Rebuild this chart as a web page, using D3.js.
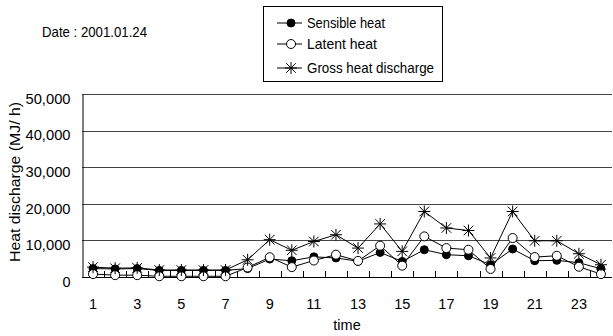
<!DOCTYPE html>
<html>
<head>
<meta charset="utf-8">
<script src="https://cdn.jsdelivr.net/npm/d3@7"></script>
<style>
  html, body { margin: 0; padding: 0; background: #fff; }
  svg { display: block; font-family: "Liberation Sans", Arial, sans-serif; }
</style>
</head>
<body>
<svg id="chart" width="613" height="336"></svg>
<script>
const hours = d3.range(1, 25);
const sensible = [2300, 2200, 2300, 1800, 1800, 1800, 1800, 2300, 4900, 4450, 5500, 5200, 4300, 6700, 4250, 7450, 6100, 5800, 3350, 7650, 4450, 4550, 3900, 2250];
const latent   = [ 800,  500,  500,  200,  200,  200,  200, 2600, 5400, 2700, 4500, 6100, 4400, 8550, 3100, 11100, 7900, 7450, 2200, 10650, 5450, 5800, 2800,  800];
const gross    = [2700, 2400, 2500, 1900, 1900, 1900, 1900, 4700, 10200, 7300, 9700, 11550, 7900, 14500, 7000, 17900, 13400, 12700, 5200, 17900, 9900, 9900, 6350, 3350];
const yTicks = [0, 10000, 20000, 30000, 40000, 50000];
const xTickLabels = [1, 3, 5, 7, 9, 11, 13, 15, 17, 19, 21, 23];
const seriesNames = ["Sensible heat", "Latent heat", "Gross heat discharge"];
const dateText = "Date :  2001.01.24";

const svg = d3.select("#chart");
const L = 82, R = 612, T = 94, B = 277;
const FS = 14.5;

const x = d3.scaleBand().domain(hours).range([L, R]);
const y = d3.scaleLinear().domain([0, 50000]).range([B, T]);
const cx = h => x(h) + x.bandwidth() / 2;

// gridlines
svg.append("g").selectAll("line").data(yTicks.slice(1)).join("line")
  .attr("x1", L).attr("x2", R)
  .attr("y1", d => Math.round(y(d)) + 0.5).attr("y2", d => Math.round(y(d)) + 0.5)
  .attr("stroke", "#444").attr("stroke-width", 1);

// y axis
const yAxis = svg.append("g").attr("transform", `translate(${L + 0.5},0)`)
  .call(d3.axisLeft(y).tickValues(yTicks).tickFormat(d3.format(",")).tickSize(0).tickPadding(12));
yAxis.select(".domain").attr("stroke", "#000");
yAxis.selectAll("text").attr("font-size", FS).attr("fill", "#000")
  .attr("font-family", "Liberation Sans, Arial, sans-serif").attr("dy", "0.64em")
  .each(function(d) { if (d > 0) d3.select(this).attr("textLength", 45).attr("lengthAdjust", "spacingAndGlyphs"); });

// x axis
const xAxis = svg.append("g").attr("transform", `translate(0,${B + 0.5})`)
  .call(d3.axisBottom(x).tickValues(xTickLabels).tickSize(0).tickPadding(21));
xAxis.select(".domain").attr("stroke", "#000").attr("d", `M${L},0H${R}`);
xAxis.selectAll("text").attr("font-size", FS).attr("fill", "#000")
  .attr("font-family", "Liberation Sans, Arial, sans-serif");

// inner ticks at category boundaries
svg.append("g").selectAll("line").data(hours.slice(1)).join("line")
  .attr("x1", d => Math.round(x(d)) + 0.5).attr("x2", d => Math.round(x(d)) + 0.5)
  .attr("y1", B).attr("y2", B - 6)
  .attr("stroke", "#000");

// axis titles
svg.append("text").attr("x", (L + R) / 2).attr("y", 330).attr("text-anchor", "middle")
  .attr("font-size", FS).text("time");
svg.append("text").attr("transform", "translate(20,182) rotate(-90)").attr("text-anchor", "middle")
  .attr("font-size", FS).attr("textLength", 160).attr("lengthAdjust", "spacingAndGlyphs")
  .text("Heat discharge (MJ/ h)");

// date
svg.append("text").attr("x", 42).attr("y", 37).attr("font-size", FS)
  .attr("textLength", 105).attr("lengthAdjust", "spacingAndGlyphs").text(dateText);

// markers
function starPath(s) {
  return `M${-s},0H${s}M0,${-s}V${s}M${-s * 0.8},${-s * 0.8}L${s * 0.8},${s * 0.8}M${-s * 0.8},${s * 0.8}L${s * 0.8},${-s * 0.8}`;
}
function drawMarker(g, type) {
  if (type === 0) g.append("circle").attr("r", 4).attr("fill", "#000").attr("stroke", "#000");
  else if (type === 1) g.append("circle").attr("r", 4.5).attr("fill", "#fff").attr("stroke", "#000");
  else g.append("path").attr("d", starPath(6)).attr("stroke", "#000").attr("fill", "none");
}

const line = d3.line().x((d, i) => cx(hours[i])).y(d => y(d));
const allSeries = [sensible, latent, gross];
allSeries.forEach((vals, si) => {
  svg.append("path").datum(vals).attr("d", line)
    .attr("fill", "none").attr("stroke", "#000").attr("stroke-width", 1);
  vals.forEach((v, i) => {
    const g = svg.append("g").attr("transform", `translate(${cx(hours[i])},${y(v)})`);
    drawMarker(g, si);
  });
});

// legend
const lg = svg.append("g");
lg.append("rect").attr("x", 263.5).attr("y", 6.5).attr("width", 179).attr("height", 75)
  .attr("fill", "#fff").attr("stroke", "#000");
const rowY = [23, 44, 68];
const textLens = [78, 70, 127];
seriesNames.forEach((name, i) => {
  lg.append("line").attr("x1", 277).attr("x2", 302).attr("y1", rowY[i]).attr("y2", rowY[i]).attr("stroke", "#000");
  const g = lg.append("g").attr("transform", `translate(291,${rowY[i]})`);
  drawMarker(g, i);
  lg.append("text").attr("x", 307).attr("y", rowY[i] + 5).attr("font-size", FS)
    .attr("textLength", textLens[i]).attr("lengthAdjust", "spacingAndGlyphs").text(name);
});
</script>
</body>
</html>
